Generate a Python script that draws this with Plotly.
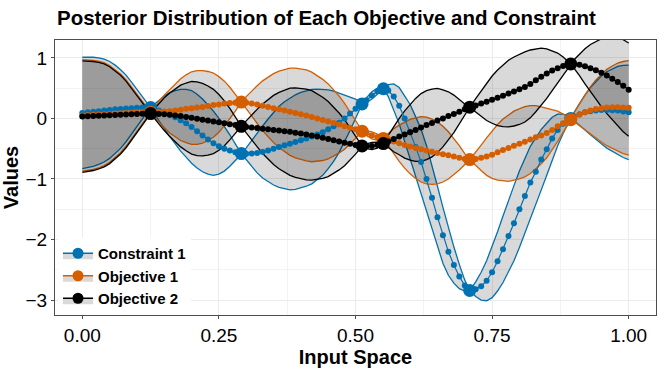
import numpy as np
import plotly.graph_objects as go

# ---------------- data ----------------
x_grid = np.round(np.arange(101) * 0.01, 2)

obs_x = [0.125, 0.291, 0.512, 0.551, 0.709, 0.894]

c1_obs = [0.18, -0.58, 0.24, 0.49, -2.84, 0.0]
o1_obs = [0.10, 0.27, -0.21, -0.33, -0.68, -0.02]
o2_obs = [0.08, -0.13, -0.455, -0.415, 0.185, 0.90]

c1_mean = [0.09, 0.10, 0.11, 0.12, 0.13, 0.14, 0.15, 0.155, 0.165, 0.17,
           0.175, 0.18, 0.18, 0.16, 0.13, 0.10, 0.065, 0.02, -0.03, -0.08,
           -0.14, -0.21, -0.28, -0.35, -0.41, -0.46, -0.50, -0.53, -0.56, -0.58,
           -0.585, -0.58, -0.57, -0.555, -0.53, -0.50, -0.47, -0.445, -0.42, -0.39,
           -0.36, -0.33, -0.30, -0.265, -0.23, -0.18, -0.13, -0.07, 0.0, 0.08,
           0.16, 0.23, 0.30, 0.38, 0.45, 0.49, 0.46, 0.36, 0.21, 0.0,
           -0.22, -0.47, -0.72, -1.0, -1.31, -1.63, -1.93, -2.2, -2.42, -2.61,
           -2.76, -2.84, -2.82, -2.77, -2.68, -2.54, -2.36, -2.16, -1.94, -1.73,
           -1.50, -1.28, -1.06, -0.88, -0.68, -0.51, -0.33, -0.19, -0.09, -0.01,
           0.03, 0.07, 0.10, 0.12, 0.13, 0.14, 0.14, 0.135, 0.13, 0.115,
           0.10]

o1_mean = [0.05, 0.055, 0.06, 0.065, 0.07, 0.075, 0.08, 0.085, 0.09, 0.095,
           0.10, 0.10, 0.10, 0.105, 0.11, 0.115, 0.12, 0.13, 0.145, 0.16,
           0.17, 0.18, 0.19, 0.205, 0.22, 0.23, 0.245, 0.255, 0.26, 0.265,
           0.26, 0.245, 0.23, 0.21, 0.19, 0.17, 0.15, 0.13, 0.11, 0.09,
           0.07, 0.05, 0.025, 0.0, -0.025, -0.05, -0.075, -0.10, -0.13, -0.155,
           -0.18, -0.205, -0.24, -0.28, -0.31, -0.33, -0.35, -0.38, -0.41, -0.44,
           -0.465, -0.49, -0.51, -0.53, -0.55, -0.57, -0.59, -0.61, -0.63, -0.65,
           -0.67, -0.68, -0.67, -0.65, -0.63, -0.60, -0.56, -0.52, -0.49, -0.45,
           -0.42, -0.385, -0.35, -0.31, -0.28, -0.24, -0.19, -0.13, -0.08, -0.03,
           0.02, 0.06, 0.10, 0.13, 0.155, 0.17, 0.18, 0.185, 0.185, 0.18,
           0.175]

o2_mean = [0.03, 0.035, 0.04, 0.045, 0.05, 0.054, 0.058, 0.062, 0.066, 0.07,
           0.073, 0.076, 0.079, 0.08, 0.075, 0.07, 0.06, 0.05, 0.04, 0.025,
           0.01, -0.005, -0.02, -0.035, -0.05, -0.065, -0.08, -0.095, -0.11, -0.125,
           -0.14, -0.15, -0.16, -0.17, -0.18, -0.19, -0.20, -0.21, -0.22, -0.235,
           -0.25, -0.265, -0.28, -0.30, -0.32, -0.34, -0.36, -0.38, -0.40, -0.42,
           -0.44, -0.455, -0.46, -0.455, -0.44, -0.42, -0.38, -0.34, -0.30, -0.265,
           -0.23, -0.19, -0.15, -0.11, -0.075, -0.035, 0.0, 0.04, 0.075, 0.11,
           0.15, 0.185, 0.215, 0.245, 0.275, 0.31, 0.34, 0.375, 0.41, 0.445,
           0.48, 0.52, 0.57, 0.63, 0.69, 0.74, 0.79, 0.83, 0.865, 0.89,
           0.90, 0.885, 0.86, 0.83, 0.795, 0.755, 0.71, 0.655, 0.60, 0.54,
           0.475]

# band half-widths (posterior spread)
c1_sd = [0.92, 0.915, 0.90, 0.88, 0.85, 0.80, 0.73, 0.65, 0.55, 0.43,
         0.31, 0.18, 0.06, 0.06, 0.17, 0.27, 0.36, 0.44, 0.51, 0.56,
         0.60, 0.61, 0.60, 0.57, 0.53, 0.46, 0.37, 0.26, 0.14, 0.02,
         0.10, 0.22, 0.33, 0.43, 0.52, 0.60, 0.67, 0.72, 0.76, 0.78,
         0.79, 0.79, 0.78, 0.75, 0.71, 0.65, 0.58, 0.49, 0.39, 0.28,
         0.16, 0.04, 0.04, 0.06, 0.05, 0.01, 0.10, 0.21, 0.30, 0.38,
         0.45, 0.50, 0.54, 0.55, 0.54, 0.51, 0.46, 0.39, 0.30, 0.20,
         0.09, 0.01, 0.12, 0.23, 0.33, 0.42, 0.49, 0.55, 0.59, 0.62,
         0.63, 0.62, 0.60, 0.56, 0.50, 0.43, 0.35, 0.26, 0.16, 0.05,
         0.07, 0.18, 0.29, 0.39, 0.48, 0.56, 0.63, 0.68, 0.73, 0.76,
         0.78]

o1_sd = [0.92, 0.915, 0.90, 0.88, 0.85, 0.80, 0.73, 0.65, 0.55, 0.43,
         0.31, 0.18, 0.06, 0.06, 0.17, 0.27, 0.36, 0.44, 0.51, 0.56,
         0.60, 0.61, 0.60, 0.57, 0.53, 0.46, 0.37, 0.26, 0.14, 0.02,
         0.10, 0.21, 0.31, 0.41, 0.49, 0.57, 0.63, 0.68, 0.72, 0.74,
         0.75, 0.75, 0.74, 0.71, 0.67, 0.62, 0.55, 0.47, 0.38, 0.27,
         0.15, 0.03, 0.04, 0.06, 0.05, 0.01, 0.10, 0.21, 0.30, 0.38,
         0.45, 0.50, 0.54, 0.55, 0.54, 0.51, 0.46, 0.39, 0.30, 0.20,
         0.09, 0.01, 0.11, 0.21, 0.31, 0.39, 0.46, 0.51, 0.55, 0.57,
         0.58, 0.58, 0.56, 0.52, 0.47, 0.41, 0.33, 0.25, 0.15, 0.05,
         0.07, 0.18, 0.29, 0.39, 0.48, 0.56, 0.63, 0.68, 0.73, 0.76,
         0.78]

o2_sd = [0.92, 0.915, 0.90, 0.88, 0.85, 0.80, 0.73, 0.65, 0.55, 0.43,
         0.31, 0.18, 0.06, 0.06, 0.17, 0.27, 0.36, 0.44, 0.51, 0.56,
         0.60, 0.61, 0.60, 0.57, 0.53, 0.46, 0.37, 0.26, 0.14, 0.02,
         0.10, 0.21, 0.31, 0.41, 0.49, 0.57, 0.63, 0.68, 0.72, 0.74,
         0.75, 0.75, 0.74, 0.71, 0.67, 0.62, 0.55, 0.47, 0.38, 0.27,
         0.15, 0.03, 0.04, 0.06, 0.05, 0.01, 0.10, 0.21, 0.30, 0.39,
         0.46, 0.52, 0.56, 0.57, 0.56, 0.53, 0.47, 0.40, 0.31, 0.20,
         0.09, 0.01, 0.11, 0.21, 0.31, 0.39, 0.46, 0.51, 0.55, 0.57,
         0.58, 0.58, 0.56, 0.52, 0.47, 0.41, 0.33, 0.25, 0.15, 0.05,
         0.07, 0.18, 0.29, 0.39, 0.48, 0.56, 0.63, 0.68, 0.73, 0.76,
         0.77]

series_names = ["Constraint 1", "Objective 1", "Objective 2"]
colors = ["#0072B2", "#D55E00", "#000000"]
means = [c1_mean, o1_mean, o2_mean]
sds = [c1_sd, o1_sd, o2_sd]
obs = [c1_obs, o1_obs, o2_obs]

x_ticks = [0.0, 0.25, 0.5, 0.75, 1.0]
x_tick_labels = ["0.00", "0.25", "0.50", "0.75", "1.00"]
y_ticks = [-3, -2, -1, 0, 1]

FONT = "Liberation Sans, Arial, sans-serif"
BAND_FILL = "rgba(0,0,0,0.15)"

fig = go.Figure()

# bands
for name, col, m, s, o in zip(series_names, colors, means, sds, obs):
    bx = np.concatenate([x_grid, obs_x])
    bm = np.concatenate([m, o])
    bs = np.concatenate([s, np.zeros(len(obs_x))])
    order = np.argsort(bx, kind="stable")
    bx, bm, bs = bx[order], bm[order], bs[order]
    fig.add_trace(go.Scatter(x=bx, y=bm + bs, mode="lines",
                             line=dict(color=col, width=1.3),
                             showlegend=False, hoverinfo="skip"))
    fig.add_trace(go.Scatter(x=bx, y=bm - bs, mode="lines",
                             line=dict(color=col, width=1.3),
                             fill="tonexty", fillcolor=BAND_FILL,
                             showlegend=False, hoverinfo="skip"))

# means and observations
for name, col, m, o in zip(series_names, colors, means, obs):
    fig.add_trace(go.Scatter(x=x_grid, y=m, mode="lines+markers",
                             line=dict(color=col, width=1.2),
                             marker=dict(color=col, size=6),
                             showlegend=False))
    fig.add_trace(go.Scatter(x=obs_x, y=o, mode="markers",
                             marker=dict(color=col, size=13),
                             showlegend=False))

# legend entries
for name, col in zip(series_names, colors):
    fig.add_trace(go.Scatter(x=[None], y=[None], mode="lines+markers",
                             name=name,
                             line=dict(color=col, width=1.5),
                             marker=dict(color=col, size=11),
                             fill="toself", fillcolor="rgba(0,0,0,0.15)"))

fig.update_layout(
    width=664, height=369,
    margin=dict(l=55, r=7, t=40, b=52),
    paper_bgcolor="white", plot_bgcolor="white",
    font=dict(family=FONT, color="black"),
    title=dict(text="Posterior Distribution of Each Objective and Constraint",
               font=dict(family=FONT, size=20.5, weight="bold", color="black"),
               x=57 / 664, xref="container", xanchor="left",
               y=1 - 18 / 369, yref="container", yanchor="middle"),
    showlegend=True,
    legend=dict(x=0.005, y=0.0, xanchor="left", yanchor="bottom",
                bgcolor="white", borderwidth=0, traceorder="normal",
                font=dict(family=FONT, size=15, weight="bold", color="black"),
                itemwidth=30, tracegroupgap=0),
)

fig.update_xaxes(range=[-0.05, 1.05], tickvals=x_ticks, ticktext=x_tick_labels,
                 showgrid=True, gridcolor="#EBEBEB", gridwidth=1,
                 minor=dict(dtick=0.125, tick0=0.125, showgrid=True, gridcolor="#F3F3F3", gridwidth=0.8),
                 zeroline=False, showline=True, mirror=True, linecolor="#4D4D4D", linewidth=1,
                 ticks="outside", ticklen=3, tickcolor="#4D4D4D",
                 tickfont=dict(family=FONT, size=19, color="black"),
                 title=dict(text="Input Space", font=dict(family=FONT, size=20, weight="bold", color="black"),
                            standoff=2))
fig.update_yaxes(range=[-3.246, 1.295], tickvals=y_ticks,
                 showgrid=True, gridcolor="#EBEBEB", gridwidth=1,
                 minor=dict(dtick=0.5, tick0=0.5, showgrid=True, gridcolor="#F3F3F3", gridwidth=0.8),
                 zeroline=False, showline=True, mirror=True, linecolor="#4D4D4D", linewidth=1,
                 ticks="outside", ticklen=3, tickcolor="#4D4D4D",
                 tickfont=dict(family=FONT, size=19, color="black"),
                 title=dict(text="Values", font=dict(family=FONT, size=20, weight="bold", color="black"),
                            standoff=4))

fig.write_html("out.html", config={"displayModeBar": False},
               post_script="document.body.style.margin='0px';")
